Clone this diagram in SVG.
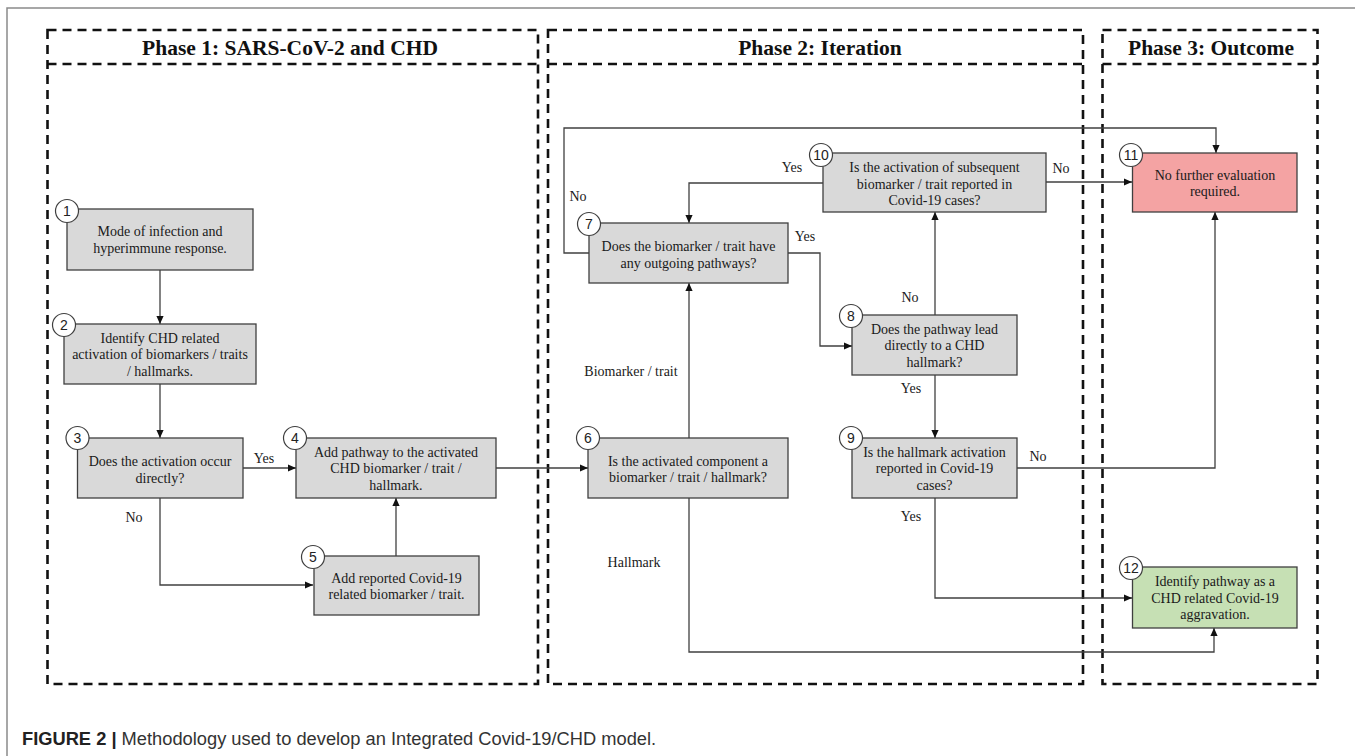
<svg xmlns="http://www.w3.org/2000/svg" width="1355" height="756" viewBox="0 0 1355 756">
  <defs>
    <marker id="arr" viewBox="0 0 10 10" refX="10" refY="5" markerWidth="9" markerHeight="8" markerUnits="userSpaceOnUse" orient="auto">
      <path d="M0,0.5 L10,5 L0,9.5 z" fill="#111"/>
    </marker>
    <style>
      .frame { fill: none; stroke: #8a8a8a; stroke-width: 1.5; }
      .phase { fill: none; stroke: #111; stroke-width: 2.6; stroke-dasharray: 9 6; }
      .hdr { font-family: "Liberation Serif", "Times New Roman", serif; font-weight: bold; font-size: 21.5px; fill: #111; text-anchor: middle; }
      .box { fill: #D9D9D9; stroke: #3f3f3f; stroke-width: 1.3; }
      .red { fill: #F4A3A3; }
      .green { fill: #C6E0B4; }
      .badge { fill: #fff; stroke: #3f3f3f; stroke-width: 1.2; }
      .num { font-family: "Liberation Sans", Arial, sans-serif; font-size: 14px; fill: #222; text-anchor: middle; }
      .t { font-family: "Liberation Serif", "Times New Roman", serif; font-size: 14px; fill: #1a1a1a; text-anchor: middle; }
      .lbl { font-family: "Liberation Serif", "Times New Roman", serif; font-size: 14px; fill: #1a1a1a; text-anchor: middle; }
      .wire { fill: none; stroke: #404040; stroke-width: 1.3; marker-end: url(#arr); }
      .cap { font-family: "Liberation Sans", Arial, sans-serif; font-size: 18.3px; fill: #333; }
    </style>
  </defs>

  <rect width="1355" height="756" fill="#fff"/>
  <!-- figure frame -->
  <path class="frame" d="M7,756 V8 H1355"/>

  <!-- phase panels -->
  <g id="phase1">
    <rect class="phase" x="47.5" y="30" width="490.5" height="654"/>
    <line class="phase" x1="47.5" y1="64" x2="538" y2="64"/>
    <text class="hdr" x="290" y="55">Phase 1: SARS-CoV-2 and CHD</text>
  </g>
  <g id="phase2">
    <rect class="phase" x="548" y="30" width="535" height="654"/>
    <line class="phase" x1="548" y1="64" x2="1083" y2="64"/>
    <text class="hdr" x="820" y="55">Phase 2: Iteration</text>
  </g>
  <g id="phase3">
    <rect class="phase" x="1102.5" y="30" width="215" height="654"/>
    <line class="phase" x1="1102.5" y1="64" x2="1317.5" y2="64"/>
    <text class="hdr" x="1211" y="55">Phase 3: Outcome</text>
  </g>

  <!-- connectors -->
  <g id="connectors">
    <path class="wire" d="M160,270 V324"/>
    <path class="wire" d="M160,384 V438"/>
    <path class="wire" d="M243,468 H296"/>
    <path class="wire" d="M160,498 V585 H313"/>
    <path class="wire" d="M396,556 V498"/>
    <path class="wire" d="M496,468 H588"/>
    <path class="wire" d="M689,438 V283"/>
    <path class="wire" d="M689,498 V652 H1214 V628"/>
    <path class="wire" d="M788,253 H820 V346 H852"/>
    <path class="wire" d="M589,253 H564 V128 H1216 V153"/>
    <path class="wire" d="M935,315 V212"/>
    <path class="wire" d="M935,375 V438"/>
    <path class="wire" d="M1017,468 H1215 V212"/>
    <path class="wire" d="M935,498 V598 H1132"/>
    <path class="wire" d="M823,183 H689 V223"/>
    <path class="wire" d="M1046,182 H1132"/>

    <text class="lbl" x="264" y="463">Yes</text>
    <text class="lbl" x="134" y="522">No</text>
    <text class="lbl" x="631" y="376">Biomarker / trait</text>
    <text class="lbl" x="634" y="567">Hallmark</text>
    <text class="lbl" x="805" y="241">Yes</text>
    <text class="lbl" x="578" y="201">No</text>
    <text class="lbl" x="910" y="302">No</text>
    <text class="lbl" x="911" y="393">Yes</text>
    <text class="lbl" x="1038" y="461">No</text>
    <text class="lbl" x="911" y="521">Yes</text>
    <text class="lbl" x="792" y="172">Yes</text>
    <text class="lbl" x="1061" y="173">No</text>
  </g>

  <!-- steps -->
  <g id="n1">
    <rect class="box" x="67" y="209" width="186" height="61"/>
    <text class="t" x="160" y="235.5">Mode of infection and</text>
    <text class="t" x="160" y="252.5">hyperimmune response.</text>
    <circle class="badge" cx="67" cy="211" r="11.5"/>
    <text class="num" x="67" y="216">1</text>
  </g>
  <g id="n2">
    <rect class="box" x="64" y="324" width="192" height="60"/>
    <text class="t" x="160" y="342.5">Identify CHD related</text>
    <text class="t" x="160" y="359">activation of biomarkers / traits</text>
    <text class="t" x="160" y="375.5">/ hallmarks.</text>
    <circle class="badge" cx="64" cy="325" r="11.5"/>
    <text class="num" x="64" y="330">2</text>
  </g>
  <g id="n3">
    <rect class="box" x="77.5" y="438" width="165.5" height="60"/>
    <text class="t" x="160" y="465.5">Does the activation occur</text>
    <text class="t" x="160" y="482.5">directly?</text>
    <circle class="badge" cx="77.5" cy="438" r="11.5"/>
    <text class="num" x="77.5" y="443">3</text>
  </g>
  <g id="n4">
    <rect class="box" x="296" y="438" width="200" height="60"/>
    <text class="t" x="396" y="456.5">Add pathway to the activated</text>
    <text class="t" x="396" y="473">CHD biomarker / trait /</text>
    <text class="t" x="396" y="489.5">hallmark.</text>
    <circle class="badge" cx="295" cy="438" r="11.5"/>
    <text class="num" x="295" y="443">4</text>
  </g>
  <g id="n5">
    <rect class="box" x="314" y="556" width="165" height="59"/>
    <text class="t" x="396.5" y="582.5">Add reported Covid-19</text>
    <text class="t" x="396.5" y="599">related biomarker / trait.</text>
    <circle class="badge" cx="313" cy="557" r="11.5"/>
    <text class="num" x="313" y="562">5</text>
  </g>
  <g id="n6">
    <rect class="box" x="588" y="438" width="200" height="60"/>
    <text class="t" x="688" y="465.5">Is the activated component a</text>
    <text class="t" x="688" y="482">biomarker / trait / hallmark?</text>
    <circle class="badge" cx="588" cy="438" r="11.5"/>
    <text class="num" x="588" y="443">6</text>
  </g>
  <g id="n7">
    <rect class="box" x="589" y="223" width="199" height="60"/>
    <text class="t" x="688.5" y="251">Does the biomarker / trait have</text>
    <text class="t" x="688.5" y="267.5">any outgoing pathways?</text>
    <circle class="badge" cx="589" cy="224" r="11.5"/>
    <text class="num" x="589" y="229">7</text>
  </g>
  <g id="n8">
    <rect class="box" x="852" y="315" width="165" height="60"/>
    <text class="t" x="934.5" y="333.5">Does the pathway lead</text>
    <text class="t" x="934.5" y="350">directly to a CHD</text>
    <text class="t" x="934.5" y="366.5">hallmark?</text>
    <circle class="badge" cx="851" cy="316" r="11.5"/>
    <text class="num" x="851" y="321">8</text>
  </g>
  <g id="n9">
    <rect class="box" x="852" y="438" width="165" height="60"/>
    <text class="t" x="934.5" y="456.5">Is the hallmark activation</text>
    <text class="t" x="934.5" y="473">reported in Covid-19</text>
    <text class="t" x="934.5" y="489.5">cases?</text>
    <circle class="badge" cx="851" cy="438" r="11.5"/>
    <text class="num" x="851" y="443">9</text>
  </g>
  <g id="n10">
    <rect class="box" x="823" y="153" width="223" height="59"/>
    <text class="t" x="934.5" y="172">Is the activation of subsequent</text>
    <text class="t" x="934.5" y="188.5">biomarker / trait reported in</text>
    <text class="t" x="934.5" y="205">Covid-19 cases?</text>
    <circle class="badge" cx="821" cy="155" r="11.5"/>
    <text class="num" x="821" y="160">10</text>
  </g>
  <g id="n11">
    <rect class="box red" x="1132.5" y="153" width="164.5" height="59"/>
    <text class="t" x="1215" y="179.5">No further evaluation</text>
    <text class="t" x="1215" y="196">required.</text>
    <circle class="badge" cx="1131" cy="155" r="11.5"/>
    <text class="num" x="1131" y="160">11</text>
  </g>
  <g id="n12">
    <rect class="box green" x="1132.5" y="567" width="164.5" height="61"/>
    <text class="t" x="1215" y="586">Identify pathway as a</text>
    <text class="t" x="1215" y="602.5">CHD related Covid-19</text>
    <text class="t" x="1215" y="619">aggravation.</text>
    <circle class="badge" cx="1131" cy="568" r="11.5"/>
    <text class="num" x="1131" y="573">12</text>
  </g>

  <!-- caption -->
  <text class="cap" x="22" y="745"><tspan font-weight="bold" fill="#222">FIGURE 2 |</tspan> Methodology used to develop an Integrated Covid-19/CHD model.</text>
</svg>
